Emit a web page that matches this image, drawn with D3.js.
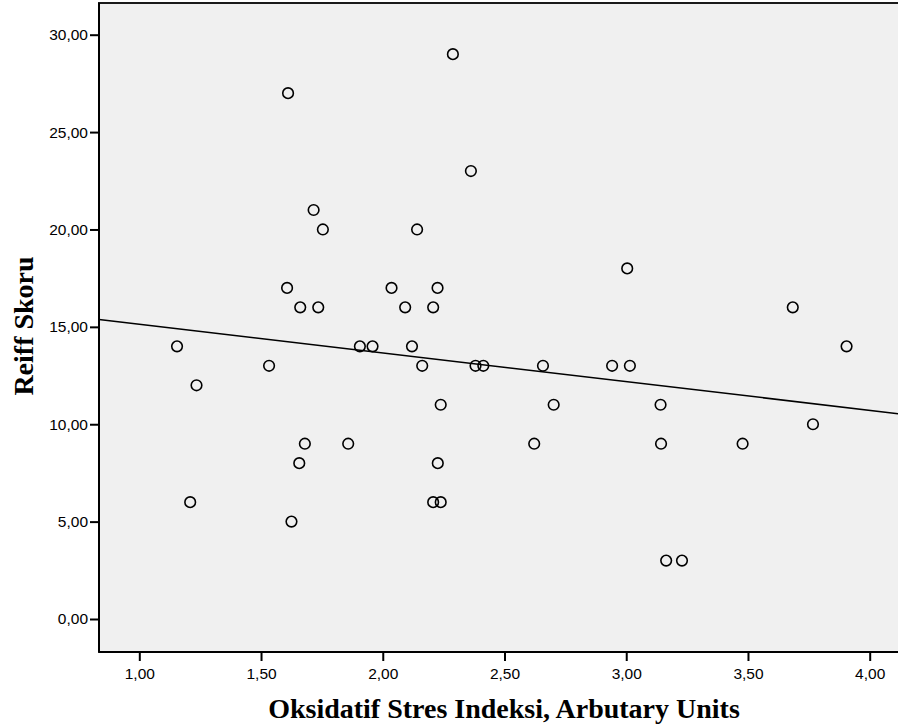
<!DOCTYPE html>
<html>
<head>
<meta charset="utf-8">
<script src="https://cdn.jsdelivr.net/npm/d3@7"></script>
<style>
  html, body { margin: 0; padding: 0; background: #fff; }
  svg { display: block; }
</style>
</head>
<body>
<div id="chart"></div>
<script>
// Oxidative stress index (x) and Reiff score (y)
const stressIndex = [
  1.155, 1.235, 1.209, 1.533, 1.611, 1.607, 1.625, 1.661, 1.657, 1.680,
  1.716, 1.735, 1.754, 1.858, 1.906, 1.958, 2.036, 2.092, 2.120, 2.141,
  2.162, 2.207, 2.207, 2.225, 2.226, 2.238, 2.238, 2.288, 2.362, 2.381,
  2.413, 2.622, 2.658, 2.702, 2.942, 3.004, 3.015, 3.141, 3.143, 3.164,
  3.229, 3.478, 3.684, 3.767, 3.905
];
const reiffScore = [
  14, 12, 6, 13, 27, 17, 5, 16, 8, 9,
  21, 16, 20, 9, 14, 14, 17, 16, 14, 20,
  13, 16, 6, 17, 8, 6, 11, 29, 23, 13,
  13, 9, 13, 11, 13, 18, 13, 11, 9, 3,
  3, 9, 16, 10, 14
];

// fit line
const fitIntercept = 16.61;
const fitSlope = -1.474;

const xTicks = [1.0, 1.5, 2.0, 2.5, 3.0, 3.5, 4.0];
const yTicks = [0, 5, 10, 15, 20, 25, 30];

const xTitle = "Oksidatif Stres Indeksi, Arbutary Units";
const yTitle = "Reiff Skoru";

// layout
const width = 898;
const height = 727;
const plotLeft = 99;
const plotRight = 900;
const plotTop = 3;
const plotBottom = 652;

const svg = d3.select("#chart").append("svg")
  .attr("width", width)
  .attr("height", height);

const xScale = d3.scaleLinear().domain([1, 4]).range([139.3, 869.7]);
const yScale = d3.scaleLinear().domain([0, 30]).range([619, 34.7]);

const fmt = d => d3.format(".2f")(d).replace(".", ",");

// plot background
svg.append("rect")
  .attr("x", plotLeft)
  .attr("y", plotTop)
  .attr("width", plotRight - plotLeft)
  .attr("height", plotBottom - plotTop)
  .attr("fill", "#f0f0f0")
  .attr("stroke", "#1a1a1a")
  .attr("stroke-width", 2);

// fit line
const x0 = xScale.invert(plotLeft);
const x1 = xScale.invert(898);
svg.append("line")
  .attr("x1", xScale(x0))
  .attr("y1", yScale(fitIntercept + fitSlope * x0))
  .attr("x2", xScale(x1))
  .attr("y2", yScale(fitIntercept + fitSlope * x1))
  .attr("stroke", "#000")
  .attr("stroke-width", 1.5);

// points
const points = stressIndex.map((x, i) => ({ x: x, y: reiffScore[i] }));
svg.selectAll("circle.pt")
  .data(points)
  .enter()
  .append("circle")
  .attr("class", "pt")
  .attr("cx", d => xScale(d.x))
  .attr("cy", d => yScale(d.y))
  .attr("r", 5.3)
  .attr("fill", "none")
  .attr("stroke", "#000")
  .attr("stroke-width", 1.6);

// axes
const xAxis = d3.axisBottom(xScale)
  .tickValues(xTicks)
  .tickFormat(fmt)
  .tickSize(9)
  .tickPadding(7)
  .tickSizeOuter(0);
const yAxis = d3.axisLeft(yScale)
  .tickValues(yTicks)
  .tickFormat(fmt)
  .tickSize(9)
  .tickPadding(2)
  .tickSizeOuter(0);

const gx = svg.append("g")
  .attr("transform", "translate(0," + plotBottom + ")")
  .call(xAxis);
gx.select(".domain").attr("d", "M" + plotLeft + ",0H" + plotRight);

const gy = svg.append("g")
  .attr("transform", "translate(" + plotLeft + ",0)")
  .call(yAxis);
gy.select(".domain").attr("d", "M0," + plotTop + "V" + plotBottom);

[gx, gy].forEach(g => {
  g.select(".domain").attr("stroke", "#000").attr("stroke-width", 2);
  g.selectAll(".tick line").attr("stroke", "#000").attr("stroke-width", 2);
  g.selectAll(".tick text")
    .attr("fill", "#000")
    .style("font-family", "'Liberation Sans', Arial, sans-serif")
    .style("font-size", "15.5px");
});

// axis titles
svg.append("text")
  .text(xTitle)
  .attr("x", 504)
  .attr("y", 718)
  .attr("text-anchor", "middle")
  .style("font-family", "'Liberation Serif', 'Times New Roman', serif")
  .style("font-weight", "bold")
  .style("font-size", "28px");

svg.append("text")
  .text(yTitle)
  .attr("transform", "translate(33,326) rotate(-90)")
  .attr("text-anchor", "middle")
  .style("font-family", "'Liberation Serif', 'Times New Roman', serif")
  .style("font-weight", "bold")
  .style("font-size", "28px");
</script>
</body>
</html>
